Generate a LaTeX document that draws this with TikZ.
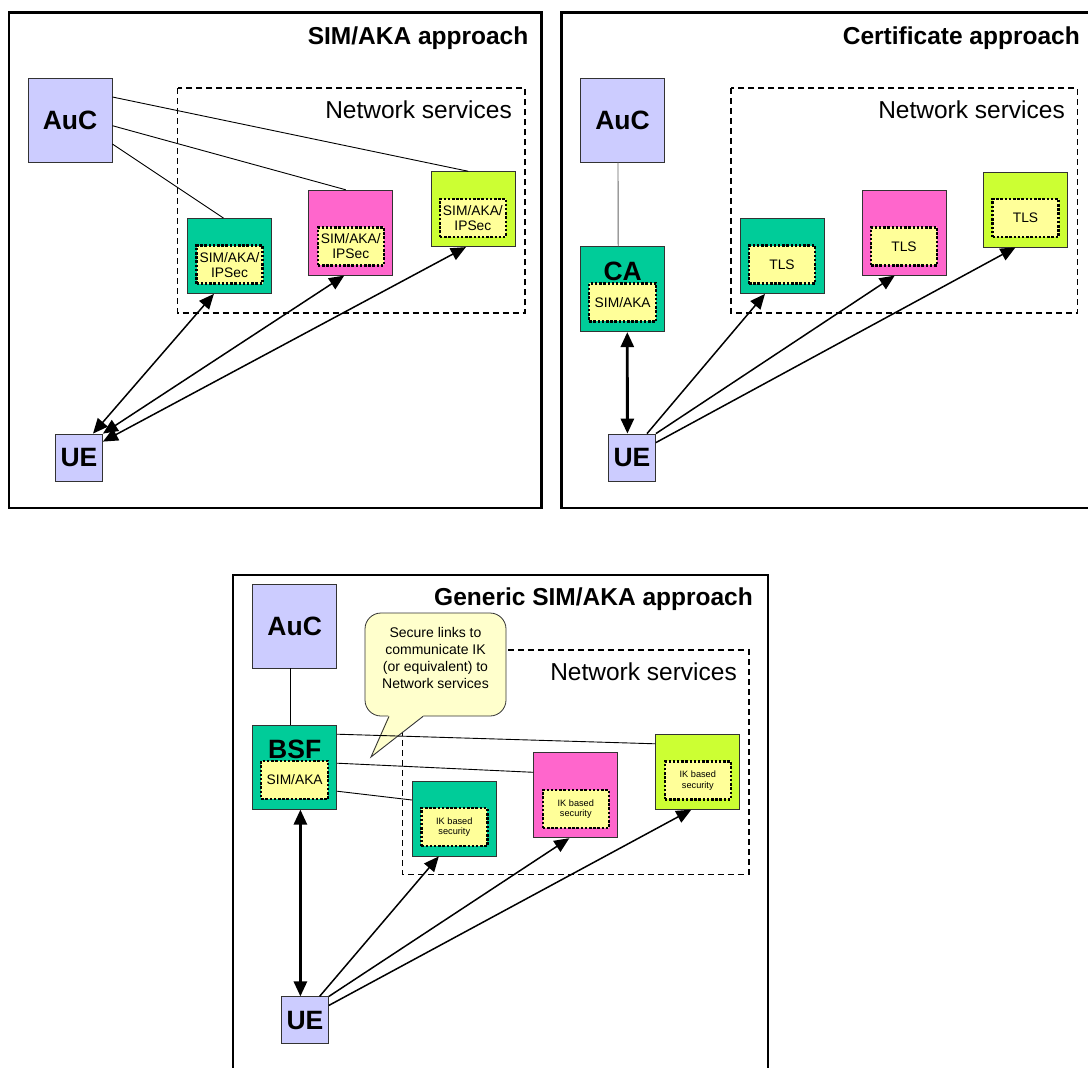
\documentclass[tikz,border=0pt]{standalone}
\usepackage{fontspec}
\setmainfont{Liberation Sans}
\usetikzlibrary{arrows.meta}

\definecolor{aucblue}{HTML}{CCCCFF}
\definecolor{svcgreen}{HTML}{00CC99}
\definecolor{svcpink}{HTML}{FF66CC}
\definecolor{svclime}{HTML}{CCFF33}
\definecolor{secyellow}{HTML}{FFFF99}
\definecolor{notecol}{HTML}{FFFFCC}

\tikzset{
  >={Triangle[length=15pt,width=13pt]},
  panel/.style={line width=2.8pt},
  nsbox/.style={line width=1.3pt, dash pattern=on 6pt off 4pt},
  ent/.style={draw=black!80, line width=0.8pt, fill=aucblue, inner sep=0pt,
    minimum width=84pt, minimum height=84pt,
    font=\bfseries\fontsize{26.5}{30}\selectfont},
  uebox/.style={ent, minimum width=47pt, minimum height=47pt},
  svc/.style={draw=black!80, line width=0.8pt, inner sep=0pt, minimum width=84pt},
  sec/.style={draw=black, line width=2.5pt, dash pattern=on 2.5pt off 1.7pt,
    fill=secyellow, inner sep=0pt, minimum width=66pt, minimum height=38pt,
    align=center, anchor=south, font=\fontsize{13.8}{15}\selectfont},
  iksec/.style={sec, font=\fontsize{9.2}{10.5}\selectfont},
  entlabel/.style={anchor=base, inner sep=0pt, font=\bfseries\fontsize{26.5}{30}\selectfont},
  title/.style={anchor=base east, inner sep=0pt, font=\bfseries\fontsize{24.5}{29}\selectfont},
  nslabel/.style={anchor=base east, inner sep=0pt, font=\fontsize{24.5}{29}\selectfont},
  note/.style={draw=black!80, line width=0.8pt, fill=notecol, rounded corners=16pt,
    minimum width=141pt, minimum height=103pt},
  notetext/.style={align=center, inner sep=0pt, font=\fontsize{14}{16.9}\selectfont},
  link/.style={line width=0.9pt},
  arr/.style={line width=1.5pt, ->},
  dbl/.style={line width=1.5pt, <->},
  dblthick/.style={line width=2.8pt, <->},
}

\begin{document}
\begin{tikzpicture}[x=1pt, y=-1pt]
  \useasboundingbox (0,0) rectangle (1088,1068);

  % SIM/AKA approach
  \draw[panel] (9,12.5) rectangle (541.7,508);
  \node[title] (t1) at (528.5,44) {SIM/AKA approach};
  \draw[nsbox] (177.7,88) rectangle (525,313);
  \node[nslabel] (ns1) at (512,118) {Network services};
  \node[ent] (auc1) at (70,120) {AuC};
  \node[uebox] (ue1) at (79,457.5) {UE};
  \foreach \n/\c/\x/\y/\h in {g1/svcgreen/229.5/256/75, p1/svcpink/350.8/232.7/85,
      l1/svclime/472.9/209.2/75} {
    \node[svc, fill=\c, minimum height=\h pt] (\n) at (\x,\y) {};
    \node[sec] (s\n) at ([yshift=9pt]\n.south) {SIM/AKA/\\IPSec};
  }
  \draw[link] ([yshift=23pt]auc1.east) -- ([xshift=-4.5pt]l1.north);
  \draw[link] ([yshift=-5.7pt]auc1.east) -- ([xshift=-5pt]p1.north);
  \draw[link] ([yshift=-24pt]auc1.east) -- ([xshift=-6pt]g1.north);
  \draw[dbl] ([xshift=14pt]ue1.north) -- ([xshift=-15.6pt]g1.south);
  \draw[dbl] (ue1.north east) -- ([xshift=-6.6pt]p1.south);
  \draw[dbl] ([yshift=-8pt]ue1.north east) -- ([xshift=-7pt]l1.south);

  % Certificate approach
  \draw[panel] (561.5,12.5) rectangle (1100,508);
  \node[title] (t2) at (1080,44) {Certificate approach};
  \draw[nsbox] (730.9,88) rectangle (1077.5,313);
  \node[nslabel] (ns2) at (1065,118) {Network services};
  \node[ent] (auc2) at (622.5,120) {AuC};
  \node[svc, fill=svcgreen, minimum height=85pt] (ca) at (622.7,289.2) {};
  \node[entlabel] (calbl) at (622.7,280) {CA};
  \node[sec, minimum width=67pt] (sca) at ([yshift=9.4pt]ca.south) {SIM/AKA};
  \node[uebox] (ue2) at (632,457.5) {UE};
  \foreach \n/\c/\x/\y/\h in {g2/svcgreen/782/256/75, p2/svcpink/904/232.7/85,
      l2/svclime/1025.5/209.5/75} {
    \node[svc, fill=\c, minimum height=\h pt] (\n) at (\x,\y) {};
    \node[sec] (s\n) at ([yshift=9pt]\n.south) {TLS};
  }
  \draw[link, draw=black!60] ([xshift=-4.5pt]auc2.south) -- ([xshift=-4.5pt]ca.north);
  \draw[dblthick] ([xshift=4.6pt]ca.south) -- ([xshift=-4.6pt]ue2.north);
  \draw[arr] ([xshift=15pt]ue2.north) -- ([xshift=-17pt]g2.south);
  \draw[arr] (ue2.north east) -- ([xshift=-9.3pt]p2.south);
  \draw[arr] ([yshift=-9pt]ue2.north east) -- ([xshift=-10pt]l2.south);

  % Generic SIM/AKA approach
  \draw[panel] (233,575) rectangle (768,1080);
  \node[title] (t3) at (753,605.5) {Generic SIM/AKA approach};
  \draw[nsbox] (402.7,650) rectangle (749,874.3);
  \node[nslabel] (ns3) at (737,680) {Network services};
  \node[ent] (auc3) at (294.7,626) {AuC};
  \node[svc, fill=svcgreen, minimum height=84pt] (bsf) at (294.7,767.2) {};
  \node[entlabel] (bsflbl) at (294.7,758.3) {BSF};
  \node[sec, minimum width=67pt] (sbsf) at ([yshift=9.4pt]bsf.south) {SIM/AKA};
  \node[uebox] (ue3) at (305,1020.3) {UE};
  \foreach \n/\c/\x/\y/\h in {g3/svcgreen/454.3/818.5/75, p3/svcpink/575.8/795.3/85,
      l3/svclime/697.8/771.8/75} {
    \node[svc, fill=\c, minimum height=\h pt] (\n) at (\x,\y) {};
    \node[iksec] (s\n) at ([yshift=9pt]\n.south) {IK based\\security};
  }
  % callout
  \node[note] (note) at (435.5,664.5) {};
  \coordinate (tip) at (371,757);
  \fill[notecol] ([xshift=-47pt,yshift=1.2pt]note.south) -- (tip)
    -- ([xshift=-12pt,yshift=1.2pt]note.south) -- cycle;
  \draw[link, draw=black!80] ([xshift=-46.5pt]note.south) -- (tip) -- ([xshift=-12.5pt]note.south);
  \node[notetext] (notetxt) at (435.5,658) {Secure links to\\communicate IK\\(or equivalent) to\\Network services};
  \draw[link] ([xshift=-4.7pt]auc3.south) -- ([xshift=-4.7pt]bsf.north);
  \draw[link] ([yshift=33pt]bsf.east) -- ([yshift=28pt]l3.west);
  \draw[link] ([yshift=4pt]bsf.east) -- ([yshift=23pt]p3.west);
  \draw[link] ([yshift=-24pt]bsf.east) -- ([yshift=18.5pt]g3.west);
  \draw[dblthick] ([xshift=5.7pt]bsf.south) -- ([xshift=-4.6pt]ue3.north);
  \draw[arr] ([xshift=14.6pt]ue3.north) -- ([xshift=-15.5pt]g3.south);
  \draw[arr] (ue3.north east) -- ([xshift=-6.5pt]p3.south);
  \draw[arr] ([yshift=-9pt]ue3.north east) -- ([xshift=-6.5pt]l3.south);
\end{tikzpicture}
\end{document}
